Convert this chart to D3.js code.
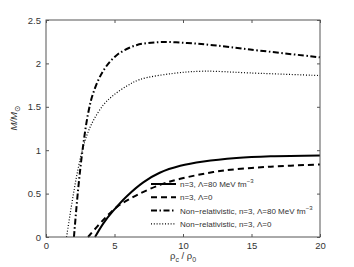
<!DOCTYPE html>
<html>
<head>
<meta charset="utf-8">
<script src="https://cdn.jsdelivr.net/npm/d3@7"></script>
<style>
  body { margin: 0; background: #fff; }
  svg { font-family: "Liberation Sans", Arial, sans-serif; }
</style>
</head>
<body>
<div id="chart"></div>
<script>
// values (rho_c / rho_0, M / M_sun)
const relLambda80 = [[3.58, 0], [4.2, 0.16], [4.9, 0.3], [5.9, 0.47], [7.1, 0.63], [8.3, 0.74],
  [9.8, 0.82], [11.5, 0.87], [13.9, 0.91], [16.4, 0.93], [20, 0.94]];
const relLambda0 = [[3.07, 0], [4.2, 0.2], [5.2, 0.35], [6.6, 0.48], [8.3, 0.6], [9.8, 0.67],
  [12.7, 0.76], [16.4, 0.81], [20, 0.835]];
const nonrelLambda80 = [[2.04, 0], [2.34, 0.54], [2.65, 0.98], [3.07, 1.42], [3.45, 1.66], [4.2, 1.92],
  [5.2, 2.1], [6.6, 2.21], [8.3, 2.245], [10.3, 2.235], [12.2, 2.21], [14.9, 2.16], [20, 2.07]];
const nonrelLambda0 = [[1.5, 0], [1.9, 0.4], [2.26, 0.72], [2.6, 0.97], [3.0, 1.18], [3.45, 1.34],
  [4.18, 1.52], [4.9, 1.63], [5.9, 1.74], [6.86, 1.815], [9.3, 1.885], [11.5, 1.91], [14.9, 1.89], [20, 1.86]];

const xTicks = [0, 5, 10, 15, 20];
const yTicks = [0, 0.5, 1, 1.5, 2, 2.5];

const series = [
  { data: relLambda80, label: 'n=3, Λ=80 MeV fm', sup: '−3', width: 2, dash: null },
  { data: relLambda0, label: 'n=3, Λ=0', sup: null, width: 2, dash: '6,4' },
  { data: nonrelLambda80, label: 'Non−relativistic, n=3, Λ=80 MeV fm', sup: '−3', width: 2, dash: '6,2.5,1.5,2.5' },
  { data: nonrelLambda0, label: 'Non−relativistic, n=3, Λ=0', sup: null, width: 1.2, dash: '1,1.8' },
];

const width = 354, height = 267;
const margin = { top: 20, right: 34, bottom: 30, left: 46 };
const axisColor = '#555';
const textColor = '#333';

const svg = d3.select('#chart').append('svg')
  .attr('width', width).attr('height', height);

const x = d3.scaleLinear().domain([0, 20]).range([margin.left, width - margin.right]);
const y = d3.scaleLinear().domain([0, 2.5]).range([height - margin.bottom, margin.top]);

const line = d3.line().x(d => x(d[0])).y(d => y(d[1])).curve(d3.curveCatmullRom.alpha(0.5));

// curves
const g = svg.append('g');
series.forEach(s => {
  g.append('path')
    .datum(s.data)
    .attr('fill', 'none')
    .attr('stroke', '#000')
    .attr('stroke-width', s.width)
    .attr('stroke-dasharray', s.dash)
    .attr('d', line);
});

// frame
svg.append('rect')
  .attr('x', x(0)).attr('y', y(2.5))
  .attr('width', x(20) - x(0)).attr('height', y(0) - y(2.5))
  .attr('fill', 'none').attr('stroke', axisColor).attr('stroke-width', 1);

// axes with inward ticks
const tick = 3;
const xBottom = svg.append('g').attr('transform', `translate(0,${y(0)})`)
  .call(d3.axisBottom(x).tickValues(xTicks).tickSizeInner(-tick).tickSizeOuter(0).tickPadding(5));
const xTop = svg.append('g').attr('transform', `translate(0,${y(2.5)})`)
  .call(d3.axisTop(x).tickValues(xTicks).tickSizeInner(-tick).tickSizeOuter(0).tickFormat(''));
const yLeft = svg.append('g').attr('transform', `translate(${x(0)},0)`)
  .call(d3.axisLeft(y).tickValues(yTicks).tickSizeInner(-tick).tickSizeOuter(0).tickPadding(5)
    .tickFormat(d => d3.format('')(d)));
const yRight = svg.append('g').attr('transform', `translate(${x(20)},0)`)
  .call(d3.axisRight(y).tickValues(yTicks).tickSizeInner(-tick).tickSizeOuter(0).tickFormat(''));

[xBottom, xTop, yLeft, yRight].forEach(a => {
  a.select('.domain').remove();
  a.selectAll('line').attr('stroke', axisColor);
  a.selectAll('text').attr('fill', textColor).style('font-size', '9.5px')
    .style('font-family', '"Liberation Sans", Arial, sans-serif');
});

// axis labels
const xl = svg.append('text')
  .attr('x', x(10) - 13).attr('y', 259)
  .attr('fill', textColor).style('font-size', '9.5px');
xl.append('tspan').text('ρ');
xl.append('tspan').attr('dy', 2.5).style('font-size', '7px').text('c');
xl.append('tspan').attr('dy', -2.5).text(' / ρ');
xl.append('tspan').attr('dy', 2.5).style('font-size', '7px').text('0');

const yl = svg.append('text')
  .attr('transform', `translate(17,118) rotate(-90)`)
  .attr('text-anchor', 'middle')
  .attr('fill', textColor).style('font-size', '9.5px').style('font-style', 'italic');
yl.append('tspan').text('M/M');
yl.append('tspan').attr('dy', 2.5).style('font-size', '8px').style('font-style', 'normal')
  .style('font-family', '"DejaVu Sans", sans-serif').text('⊙');

// legend
const legend = svg.append('g');
series.forEach((s, i) => {
  const ly = 184 + i * 13.3;
  legend.append('line')
    .attr('x1', 151).attr('x2', 176).attr('y1', ly).attr('y2', ly)
    .attr('stroke', '#000').attr('stroke-width', s.width)
    .attr('stroke-dasharray', s.dash);
  const t = legend.append('text')
    .attr('x', 180).attr('y', ly + 3)
    .attr('fill', textColor).style('font-size', '8px');
  t.append('tspan').text(s.label);
  if (s.sup) t.append('tspan').attr('dy', -4).style('font-size', '6px').text(s.sup);
});
</script>
</body>
</html>
